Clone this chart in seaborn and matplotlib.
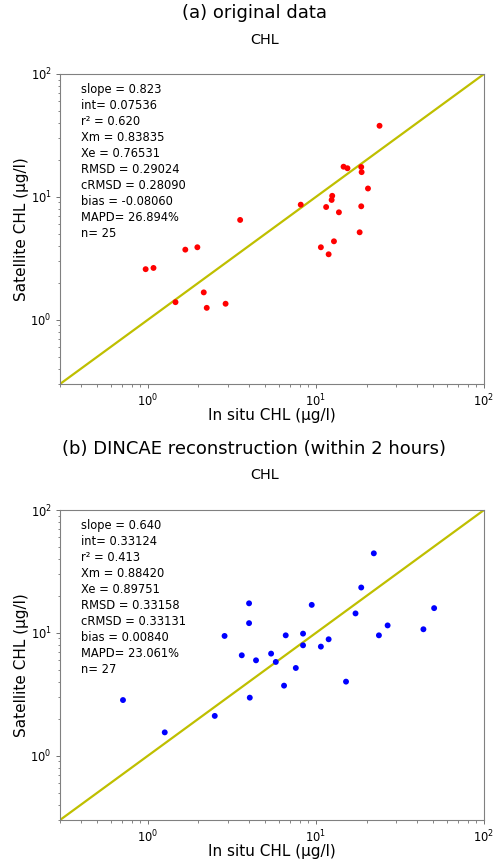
import matplotlib
matplotlib.use("Agg")
import matplotlib.pyplot as plt
import numpy as np
import pandas as pd
import seaborn as sns

# (a) original data
orig_insitu = [23.9, 14.6, 15.4, 18.6, 18.7, 20.4, 8.12, 12.5, 12.4, 11.5, 18.6, 13.7,
               3.54, 18.2, 12.8, 10.7, 11.9, 1.97, 1.67, 0.97, 1.08, 1.46, 2.15, 2.24, 2.90]
orig_sat = [37.9, 17.6, 17.1, 17.5, 15.9, 11.7, 8.64, 10.2, 9.44, 8.27, 8.38, 7.49,
            6.49, 5.15, 4.35, 3.89, 3.41, 3.89, 3.72, 2.58, 2.64, 1.39, 1.67, 1.25, 1.35]

# (b) DINCAE reconstruction
dincae_insitu = [22.1, 18.6, 50.5, 17.2, 4.0, 9.44, 4.0, 26.7, 43.6, 23.7, 2.86, 6.61, 8.38,
                 8.38, 11.9, 10.7, 3.62, 5.41, 4.40, 5.77, 7.59, 15.1, 6.46, 4.04, 2.50, 0.711, 1.26]
dincae_sat = [44.4, 23.4, 15.9, 14.4, 17.4, 16.9, 12.0, 11.5, 10.7, 9.55, 9.44, 9.55, 9.86,
              7.92, 8.87, 7.73, 6.57, 6.78, 5.98, 5.80, 5.18, 4.01, 3.72, 2.97, 2.11, 2.84, 1.55]

orig_stats = ["slope = 0.823", "int= 0.07536", "r\u00b2 = 0.620", "Xm = 0.83835",
              "Xe = 0.76531", "RMSD = 0.29024", "cRMSD = 0.28090", "bias = -0.08060",
              "MAPD= 26.894%", "n= 25"]
dincae_stats = ["slope = 0.640", "int= 0.33124", "r\u00b2 = 0.413", "Xm = 0.88420",
                "Xe = 0.89751", "RMSD = 0.33158", "cRMSD = 0.33131", "bias = 0.00840",
                "MAPD= 23.061%", "n= 27"]

LIMS = [0.3, 100]
W, H = 496, 859

fig = plt.figure(figsize=(W / 100, H / 100), dpi=100)


def panel(top_px, x, y, color, stats, title):
    ax = fig.add_axes([60 / W, 1 - (top_px + 310) / H, 424 / W, 310 / H])
    df = pd.DataFrame({"insitu": x, "sat": y})
    sns.scatterplot(data=df, x="insitu", y="sat", ax=ax, color=color, s=18,
                    edgecolor="none", zorder=3)
    ax.set_xscale("log")
    ax.set_yscale("log")
    ax.set_xlim(LIMS)
    ax.set_ylim(LIMS)
    ax.axline((1, 1), (10, 10), color="y", lw=1.6, zorder=2)
    ax.set_xlabel("In situ CHL (\u00b5g/l)", fontsize=11)
    ax.set_ylabel("Satellite CHL (\u00b5g/l)", fontsize=11)
    ax.xaxis.set_label_coords(0.5, -0.078)
    ax.yaxis.set_label_coords(-0.072, 0.5)
    ax.tick_params(labelsize=8.3, length=3, width=0.7, color="#707070", pad=3)
    ax.tick_params(which="minor", length=1.8, width=0.6, color="#707070")
    for sp in ax.spines.values():
        sp.set_color("#808080")
    ax.text(0.05, 0.972, "\n".join(stats), transform=ax.transAxes, va="top",
            ha="left", fontsize=8.3, linespacing=1.30)
    fig.text(254.5 / W, 1 - (top_px - 60.5) / H, title, ha="center", va="center",
             fontsize=13)
    fig.text(264.5 / W, 1 - (top_px - 34.5) / H, "CHL", ha="center", va="center",
             fontsize=10.4)
    return ax


panel(74, orig_insitu, orig_sat, "red", orig_stats, "(a) original data")
panel(510, dincae_insitu, dincae_sat, "blue", dincae_stats,
      "(b) DINCAE reconstruction (within 2 hours)")

fig.savefig("out.png", dpi=100)
